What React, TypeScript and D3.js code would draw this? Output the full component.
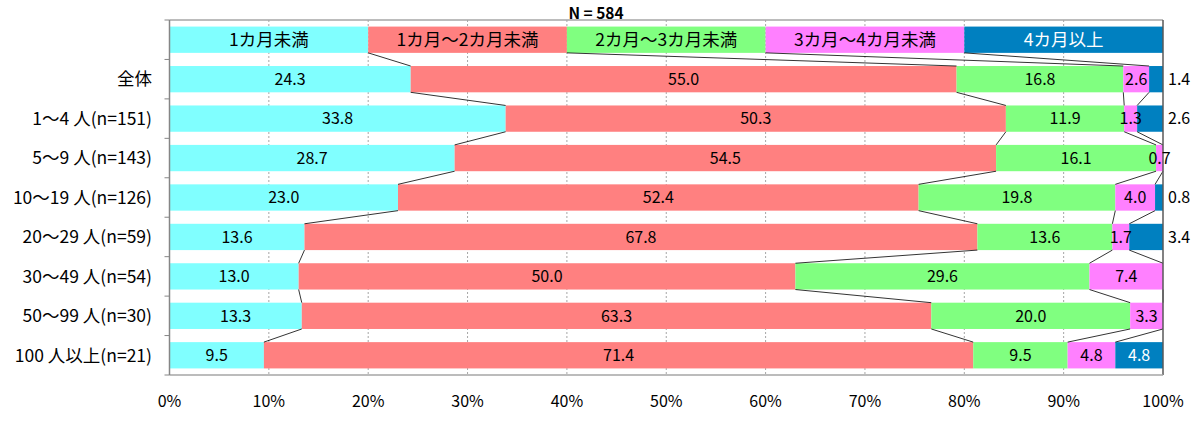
import React from "react";
import * as d3 from "d3";

const title = "N = 584";
const seriesNames = ["1カ月未満", "1カ月～2カ月未満", "2カ月～3カ月未満", "3カ月～4カ月未満", "4カ月以上"];
const seriesColors = ["#80FFFF", "#FF8080", "#80FF80", "#FF80FF", "#0080C0"];
const categories = [
  "全体",
  "1～4 人(n=151)",
  "5～9 人(n=143)",
  "10～19 人(n=126)",
  "20～29 人(n=59)",
  "30～49 人(n=54)",
  "50～99 人(n=30)",
  "100 人以上(n=21)",
];
const under1 = [24.3, 33.8, 28.7, 23.0, 13.6, 13.0, 13.3, 9.5];
const m1to2 = [55.0, 50.3, 54.5, 52.4, 67.8, 50.0, 63.3, 71.4];
const m2to3 = [16.8, 11.9, 16.1, 19.8, 13.6, 29.6, 20.0, 9.5];
const m3to4 = [2.6, 1.3, 0.7, 4.0, 1.7, 7.4, 3.3, 4.8];
const over4 = [1.4, 2.6, 0, 0.8, 3.4, 0, 0, 4.8];
const legendShares = [20, 20, 20, 20, 20];
const xTicks = [0, 10, 20, 30, 40, 50, 60, 70, 80, 90, 100];

const W = 1194;
const H = 421;
const left = 169.5;
const right = 1163;
const top = 20;
const bottom = 375;
const FONT = "'Noto Sans CJK JP', 'Noto Sans', sans-serif";

export default function App() {
  const series = [under1, m1to2, m2to3, m3to4, over4];
  const rowKeys = ["__legend__", ...categories];
  const x = d3.scaleLinear().domain([0, 100]).range([left, right]);
  const y = d3.scaleBand<string>().domain(rowKeys).range([top, bottom]).paddingInner(1 / 3).paddingOuter(1 / 6);
  const bh = y.bandwidth();

  const rows: number[][] = [legendShares, ...categories.map((_, i) => series.map((s) => s[i]))];
  const stacked = rows.map((vals) => {
    const total = d3.sum(vals);
    let acc = 0;
    return vals.map((v) => {
      const x0 = (acc / total) * 100;
      acc += v;
      const x1 = (acc / total) * 100;
      return { v, x0, x1 };
    });
  });

  const connectors: JSX.Element[] = [];
  for (let r = 0; r < rows.length - 1; r++) {
    const yb = (y(rowKeys[r]) as number) + bh;
    const yt = y(rowKeys[r + 1]) as number;
    for (let k = 0; k < 4; k++) {
      connectors.push(
        <line
          key={`c${r}-${k}`}
          x1={x(stacked[r][k].x1)}
          y1={yb}
          x2={x(stacked[r + 1][k].x1)}
          y2={yt}
          stroke="#000"
          strokeWidth={0.8}
        />
      );
    }
  }

  return (
    <svg width={W} height={H} style={{ display: "block", position: "absolute", left: 0, top: 0 }} fontFamily={FONT}>
      <rect x={0} y={0} width={W} height={H} fill="#fff" />
      <text x={596} y={19} textAnchor="middle" fontSize={15.5} fontWeight="bold" fill="#000">
        {title}
      </text>
      {xTicks.slice(1, -1).map((t) => (
        <line key={`g${t}`} x1={x(t)} x2={x(t)} y1={top} y2={bottom} stroke="#A6A6A6" strokeWidth={1} strokeDasharray="2,2" />
      ))}
      {stacked.map((row, r) => {
        const yy = y(rowKeys[r]) as number;
        return (
          <g key={`r${r}`}>
            {row.map((s, k) =>
              s.v > 0 ? (
                <rect key={k} x={x(s.x0)} y={yy} width={x(s.x1) - x(s.x0)} height={bh} fill={seriesColors[k]} />
              ) : null
            )}
          </g>
        );
      })}
      {connectors}
      <line x1={left} x2={right} y1={top} y2={top} stroke="#A6A6A6" strokeWidth={1.5} />
      <line x1={right} x2={right} y1={top} y2={bottom} stroke="#595959" strokeWidth={1.5} />
      <line x1={left} x2={right} y1={bottom} y2={bottom} stroke="#A6A6A6" strokeWidth={1.5} />
      <line x1={left} x2={left} y1={top} y2={bottom} stroke="#868686" strokeWidth={1.5} />
      {d3.range(rowKeys.length + 1).map((i) => {
        const yy = top + i * y.step();
        return <line key={`yt${i}`} x1={left - 5} x2={left} y1={yy} y2={yy} stroke="#868686" strokeWidth={1} />;
      })}
      {stacked[0].map((s, k) => (
        <text
          key={`lg${k}`}
          x={(x(s.x0) + x(s.x1)) / 2}
          y={(y(rowKeys[0]) as number) + bh / 2}
          dy="0.36em"
          textAnchor="middle"
          fontSize={17.5}
          fill={k === 4 ? "#fff" : "#000"}
        >
          {seriesNames[k]}
        </text>
      ))}
      {stacked.slice(1).map((row, ri) => {
        const yy = (y(rowKeys[ri + 1]) as number) + bh / 2;
        return row.map((s, k) => {
          if (s.v <= 0) return null;
          const outside = k === 4 && s.v < 4;
          const tx = outside ? x(100) + 5 : (x(s.x0) + x(s.x1)) / 2;
          return (
            <text
              key={`v${ri}-${k}`}
              x={tx}
              y={yy}
              dy="0.36em"
              textAnchor={outside ? "start" : "middle"}
              fontSize={16}
              fill={k === 4 && !outside ? "#fff" : "#000"}
            >
              {s.v.toFixed(1)}
            </text>
          );
        });
      })}
      {categories.map((c, i) => (
        <text
          key={`cat${i}`}
          x={152}
          y={(y(c) as number) + bh / 2}
          dy="0.36em"
          textAnchor="end"
          fontSize={17.5}
          fill="#000"
        >
          {c}
        </text>
      ))}
      {xTicks.map((t) => (
        <text key={`xt${t}`} x={x(t)} y={401} dy="0.36em" textAnchor="middle" fontSize={16} fill="#000">
          {`${t}%`}
        </text>
      ))}
    </svg>
  );
}
